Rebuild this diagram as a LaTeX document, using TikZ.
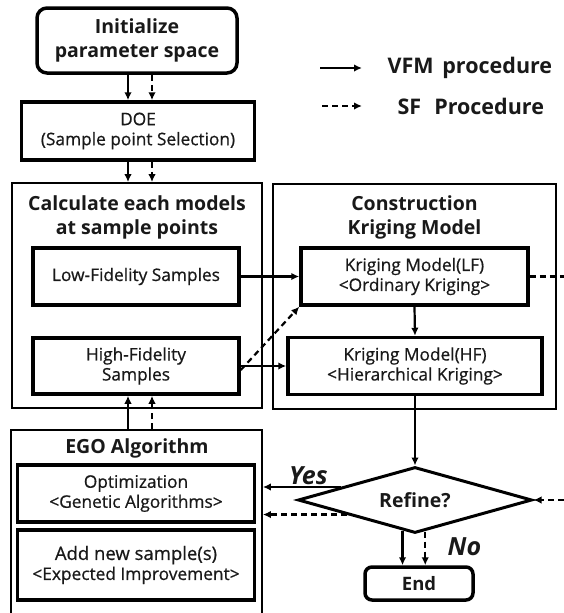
\documentclass[tikz,border=0pt]{standalone}
\usepackage{fontspec}
\setmainfont{Open Sans}
\newfontfamily\boxfont{Open Sans}[FakeBold = 0.7]
\usetikzlibrary{arrows.meta, shapes.geometric}

\begin{document}
\begin{tikzpicture}[x = 1pt, y = -1pt, > = {Latex[length = 8pt, width = 7.5pt]},
	heavy/.style = {draw, line width = 3.5pt, inner sep = 0pt, align = center, text = black!90, font = \boxfont\fontsize{17.3}{20}\selectfont},
	frame/.style = {draw, line width = 1.8pt, inner sep = 0pt},
	heading/.style = {align = center, text = black!90, font = \fontsize{19.5}{24}\selectfont\bfseries},
	vfm/.style = {->, line width = 2.2pt},
	sf/.style = {->, line width = 2.2pt, dash pattern = on 6pt off 4pt},
	answer/.style = {text = black!90, font = \fontsize{25}{28}\selectfont\bfseries\itshape}]

	\useasboundingbox (0, 0) rectangle (563, 613);

	% Columns of the paired arrows
	
	\coordinate (solidcol) at (128, 0);
	\coordinate (dashcol) at (152, 0);
	\coordinate (sfright) at (585, 0);

	% Start and sampling plan
	
	\node (init) [heavy, heading, rounded corners = 10pt, minimum width = 200pt, minimum height = 65pt] at (137, 40.5) {Initialize\\parameter space};
	\node (doe) [heavy, minimum width = 233pt, minimum height = 58pt] at (138, 131) {DOE\\(Sample point Selection)};

	% Legend
	
	\node (vfmtext) [heading, anchor = west, font = \fontsize{21.5}{24}\selectfont\bfseries] at (384, 68) {VFM\hspace{0.15em} procedure};
	\node (sftext) [heading, anchor = west, font = \fontsize{21.5}{24}\selectfont\bfseries] at (394, 106) {SF\hspace{0.35em} Procedure};
	\draw [vfm] ([xshift = -64pt] vfmtext.west) -- ([xshift = -22pt] vfmtext.west);
	\draw [sf] ([xshift = -72pt] sftext.west) -- ([xshift = -32pt] sftext.west);

	% Model evaluations
	
	\node (calcbox) [frame, minimum width = 250pt, minimum height = 225pt] at (137, 295.5) {};
	\node (calctitle) [heading] at (137, 217) {Calculate each models\\at sample points};
	\node (lf) [heavy, minimum width = 206pt, minimum height = 57pt] at (136, 276.5) {Low-Fidelity Samples};
	\node (hf) [heavy, minimum width = 206pt, minimum height = 56pt] at (136, 366) {High-Fidelity\\Samples};

	% Surrogate construction
	
	\node (consbox) [frame, minimum width = 283pt, minimum height = 225pt] at (414.5, 296.5) {};
	\node (constitle) [heading] at (414.5, 217) {Construction\\Kriging Model};
	\node (klf) [heavy, minimum width = 227pt, minimum height = 57pt] at (414.5, 276.5) {Kriging Model(LF)\\<Ordinary Kriging>};
	\node (khf) [heavy, minimum width = 254pt, minimum height = 57pt] at (415, 366) {Kriging Model(HF)\\<Hierarchical Kriging>};

	% Infill loop
	
	\node (egobox) [frame, minimum width = 251pt, minimum height = 194pt] at (136.5, 527) {};
	\node (egotitle) [heading] at (137, 448) {EGO Algorithm};
	\node (opt) [heavy, minimum width = 237pt, minimum height = 57pt] at (136, 493.5) {Optimization\\<Genetic Algorithms>};
	\node (add) [heavy, minimum width = 237pt, minimum height = 70pt] at (136, 565) {\fontsize{18.5}{22}\selectfont Add new sample(s)\\<Expected Improvement>};

	% Decision and stop
	
	\node (refine) [diamond, draw, line width = 3pt, inner sep = 0pt, aspect = 3.5, minimum width = 234pt, minimum height = 66pt, heading, font = \fontsize{19.5}{22}\selectfont\bfseries] at (415, 500) {Refine?};
	\node (end) [heavy, heading, rounded corners = 7pt, minimum width = 108pt, minimum height = 33pt, font = \fontsize{18.5}{22}\selectfont\bfseries] at (419, 583.5) {End};

	% Paired arrows down the left column
	
	\draw [vfm] (init.south -| solidcol) -- (doe.north -| solidcol);
	\draw [sf] (init.south -| dashcol) -- (doe.north -| dashcol);
	\draw [vfm] (doe.south -| solidcol) -- (calcbox.north -| solidcol);
	\draw [sf] (doe.south -| dashcol) -- (calcbox.north -| dashcol);
	\draw [vfm] (egobox.north -| solidcol) -- (hf.south -| solidcol);
	\draw [sf] (egobox.north -| dashcol) -- (hf.south -| dashcol);

	% Samples into the Kriging models
	
	\draw [vfm] (lf.east) -- (klf.west);
	\draw [vfm] (hf.east) -- (khf.west);
	\draw [sf] ([yshift = -4pt] hf.east) -- (klf.south west);
	\draw [vfm] (klf.south) -- (khf.north);
	\draw [vfm] (khf.south) -- (refine.north);

	% SF route round the right side
	
	\draw [sf] (klf.east) -- (klf.east -| sfright) -- (refine.east -| sfright) -- (refine.east);

	% Yes and No branches
	
	\draw [vfm] (refine.170) -- node [answer, above, pos = 0.42, inner sep = 0pt, yshift = 1pt] {Yes} (refine.170 -| egobox.east);
	\draw [sf] (refine.192) -- (refine.192 -| egobox.east);
	\draw [vfm] (refine.248) -- (refine.248 |- end.north);
	\draw [sf] (refine.288) -- node [answer, right, pos = 0.45, xshift = 18pt] {No} (refine.288 |- end.north);

\end{tikzpicture}
\end{document}
